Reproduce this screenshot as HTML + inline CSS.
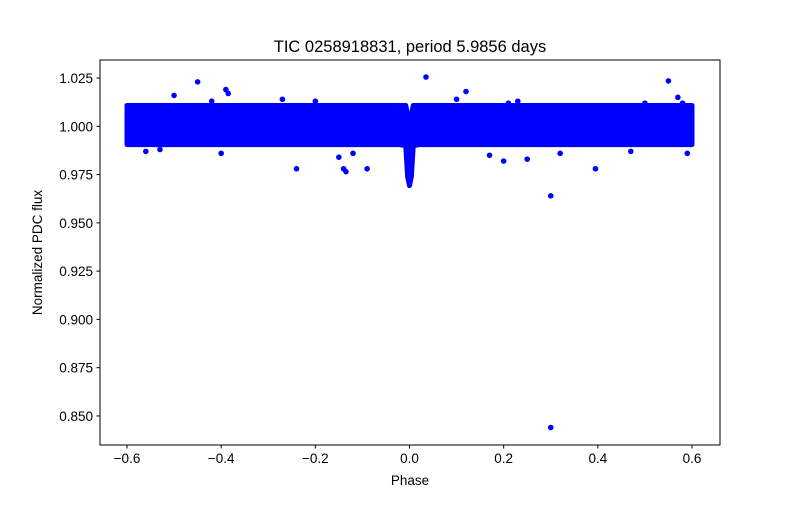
<!DOCTYPE html>
<html><head><meta charset="utf-8"><style>
body{margin:0;background:#fff;}
svg text{font-family:"Liberation Sans","DejaVu Sans",sans-serif;}
</style></head><body>
<svg id="chart" width="800" height="500" xmlns="http://www.w3.org/2000/svg">
<rect width="800" height="500" fill="#fff"/>
<text x="410" y="52" font-size="16.5" text-anchor="middle">TIC 0258918831, period 5.9856 days</text>
<g id="plot"></g>
<rect x="100" y="60" width="620" height="385" fill="none" stroke="#000" stroke-width="1"/>
<g id="axes"></g>
<text x="410" y="485" font-size="13.5" text-anchor="middle">Phase</text>
<text transform="translate(42,252.5) rotate(-90)" font-size="13.5" text-anchor="middle">Normalized PDC flux</text>
</svg>
<script>
const xTicks=[-0.6,-0.4,-0.2,0,0.2,0.4,0.6];
const xTickLabels=["−0.6","−0.4","−0.2","0.0","0.2","0.4","0.6"];
const yTicks=[0.850,0.875,0.900,0.925,0.950,0.975,1.000,1.025];
const yTickLabels=["0.850","0.875","0.900","0.925","0.950","0.975","1.000","1.025"];
// band envelope (dense scatter region)
const bandPhase=[-0.6,-0.3,-0.02,-0.008,-0.004,0,0.004,0.008,0.02,0.3,0.6];
const bandUpper=[1.0108,1.0108,1.0108,1.0108,1.006,1.003,1.006,1.0108,1.0108,1.0108,1.0108];
const bandLower=[0.9905,0.9905,0.9905,0.990,0.974,0.9693,0.974,0.990,0.9905,0.9905,0.9905];
// outlier points
const outPhase=[-0.45,-0.39,-0.385,-0.5,-0.42,-0.27,-0.2,0.035,0.12,0.1,0.23,0.21,0.55,0.57,0.5,0.58,-0.4,-0.24,-0.15,-0.14,-0.135,-0.12,-0.09,0.2,0.25,0.3,0.3,0.32,0.395,0.59,0.47,-0.56,0.17,-0.53];
const outFlux=[1.023,1.019,1.017,1.016,1.013,1.014,1.013,1.0255,1.018,1.014,1.013,1.012,1.0235,1.015,1.012,1.012,0.986,0.978,0.984,0.978,0.9765,0.986,0.978,0.982,0.983,0.964,0.844,0.986,0.978,0.986,0.987,0.987,0.985,0.988];
const X=v=>127+(v+0.6)*(565/1.2);
const Y=v=>126.3+(1-v)*1931;
const NS="http://www.w3.org/2000/svg";
const plot=document.getElementById('plot'),axes=document.getElementById('axes');
function mk(tag,attrs,parent){const e=document.createElementNS(NS,tag);for(const k in attrs)e.setAttribute(k,attrs[k]);parent.appendChild(e);return e;}
let pts=bandPhase.map((p,i)=>X(p)+','+Y(bandUpper[i]));
for(let i=bandPhase.length-1;i>=0;i--)pts.push(X(bandPhase[i])+','+Y(bandLower[i]));
const band=mk('polygon',{points:pts.join(' '),fill:'#0000ff',stroke:'#0000ff','stroke-width':5,'stroke-linejoin':'round'},plot);


outPhase.forEach((p,i)=>{
 const c=mk('circle',{cx:X(p),cy:Y(outFlux[i]),r:2.8,fill:'#0000ff'},plot);
 
 
});
xTicks.forEach((t,i)=>{
 const x=X(t);
 mk('line',{x1:x,x2:x,y1:445,y2:448.5,stroke:'#000'},axes);
 const tx=mk('text',{x:x,y:463,'font-size':13.5,'text-anchor':'middle'},axes);tx.textContent=xTickLabels[i];
 
 
});
yTicks.forEach((t,i)=>{
 const y=Y(t);
 mk('line',{x1:96.5,x2:100,y1:y,y2:y,stroke:'#000'},axes);
 const tx=mk('text',{x:93,y:y+5,'font-size':13.5,'text-anchor':'end'},axes);tx.textContent=yTickLabels[i];
 
 
});
</script>
</body></html>
